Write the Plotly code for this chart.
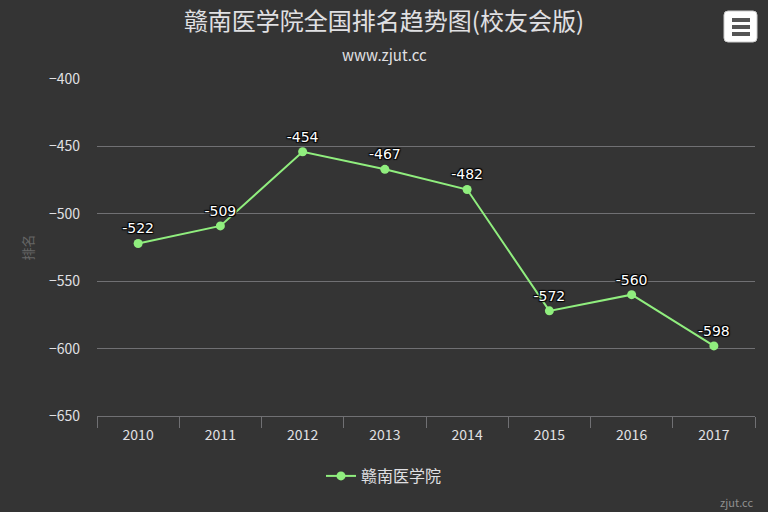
import plotly.graph_objects as go

years = ['2010', '2011', '2012', '2013', '2014', '2015', '2016', '2017']
ranks = [-522, -509, -454, -467, -482, -572, -560, -598]
series_name = '赣南医学院'

BG = '#343434'
GREEN = '#90ee7e'
FONT = 'Noto Sans CJK SC, DejaVu Sans, sans-serif'

# plot area in pixels: x 97..755, y 79..416
def xp(px):
    return (px - 97) / 658


def yp(py):
    return 1 + (79 - py) / 337


fig = go.Figure()
fig.add_trace(
    go.Scatter(
        x=years,
        y=ranks,
        mode='lines+markers+text',
        name=series_name,
        line=dict(color=GREEN, width=2),
        marker=dict(color=GREEN, size=9),
        text=[str(v) for v in ranks],
        textposition='top center',
        textfont=dict(
            color='#ffffff',
            size=14,
            family='DejaVu Sans, sans-serif',
            shadow='1px 1px 1px #000, -1px -1px 1px #000, 1px -1px 1px #000, -1px 1px 1px #000',
        ),
        cliponaxis=False,
    )
)

fig.update_layout(
    width=768,
    height=512,
    paper_bgcolor=BG,
    plot_bgcolor=BG,
    font=dict(family=FONT, color='#e0e0e3'),
    margin=dict(l=97, r=13, t=79, b=96),
    title=dict(
        text='赣南医学院全国排名趋势图(校友会版)',
        font=dict(size=24, color='#e0e0e3'),
        x=0.5,
        xanchor='center',
        y=1 - 22 / 512,
        yanchor='middle',
    ),
    showlegend=True,
    legend=dict(
        orientation='h',
        x=xp(384),
        xanchor='center',
        y=yp(476),
        yanchor='middle',
        font=dict(size=16, color='#e0e0e3'),
        bgcolor='rgba(0,0,0,0)',
    ),
    xaxis=dict(
        type='category',
        range=[-0.5, 7.5],
        tickson='boundaries',
        ticks='outside',
        ticklen=11,
        tickcolor='#707073',
        showline=True,
        linecolor='#707073',
        linewidth=1,
        showgrid=False,
        ticklabelstandoff=6,
        tickfont=dict(size=14, color='#e0e0e3'),
    ),
    yaxis=dict(
        range=[-650, -400],
        dtick=50,
        showgrid=True,
        gridcolor='#707073',
        gridwidth=1,
        zeroline=False,
        tickfont=dict(size=14, color='#e0e0e3'),
        ticklabelstandoff=16,
        title=dict(text='排名', font=dict(size=13, color='#666666'), standoff=12),
    ),
    annotations=[
        dict(
            text='www.zjut.cc', xref='paper', yref='paper',
            x=xp(384), y=yp(54), xanchor='center', yanchor='middle',
            showarrow=False, font=dict(size=15, color='#e0e0e3'),
        ),
        dict(
            text='zjut.cc', xref='paper', yref='paper',
            x=xp(755), y=yp(502), xanchor='right', yanchor='middle',
            showarrow=False, font=dict(size=11, color='#909090'),
        ),
    ],
)

# export-menu button (top right)
x0, x1, y0, y1, r = xp(724), xp(757), yp(42), yp(11), 4
rx, ry = r / 658, r / 337
fig.add_shape(
    type='path', xref='paper', yref='paper', layer='above',
    path=(
        f'M {x0 + rx},{y0} L {x1 - rx},{y0} Q {x1},{y0} {x1},{y0 + ry} '
        f'L {x1},{y1 - ry} Q {x1},{y1} {x1 - rx},{y1} '
        f'L {x0 + rx},{y1} Q {x0},{y1} {x0},{y1 - ry} '
        f'L {x0},{y0 + ry} Q {x0},{y0} {x0 + rx},{y0} Z'
    ),
    fillcolor='#ffffff', line=dict(color='#cccccc', width=1),
)
for ty in [20, 27, 34]:
    fig.add_shape(
        type='line', xref='paper', yref='paper', layer='above',
        x0=xp(732), x1=xp(750), y0=yp(ty), y1=yp(ty),
        line=dict(color='#555555', width=4),
    )

fig.write_html(
    'out.html',
    config={'displayModeBar': False},
    post_script="document.body.style.margin='0';",
)
